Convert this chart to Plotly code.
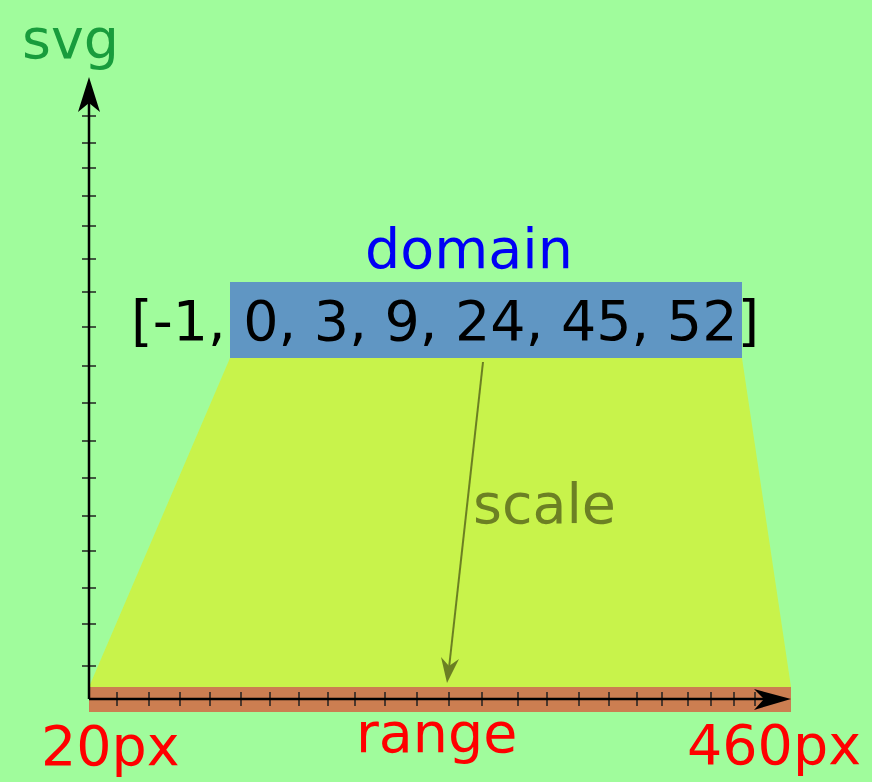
import plotly.graph_objects as go

# ---- data ----
domain = [-1, 0, 3, 9, 24, 45, 52]
range_px = [20, 460]
labels = {"svg": "svg", "domain": "domain", "scale": "scale", "range": "range"}
y_ticks = [116, 143, 168, 196, 226, 259, 292, 327, 366, 403, 441, 478, 516, 551, 588, 624, 666]
x_ticks = [117, 149, 180, 210, 241, 270, 299, 328, 355, 385, 417, 449, 482, 518, 547,
           579, 609, 637, 662, 688, 711, 734, 755]

W, H = 872, 782
BG = "#a0fc9c"
FONT = "DejaVu Sans"
FS = 55.5

fig = go.Figure()

shapes = []
# trapezoid (scale mapping)
shapes.append(dict(type="path", path="M 89 687 L 230 358 L 742 358 L 791 687 Z",
                   fillcolor="#c8f34b", line=dict(width=0), layer="below"))
# domain box
shapes.append(dict(type="rect", x0=230, x1=742, y0=282, y1=358,
                   fillcolor="#6096c3", line=dict(width=0), layer="below"))
# range band
shapes.append(dict(type="rect", x0=89, x1=791, y0=687, y1=712,
                   fillcolor="#cc7e51", line=dict(width=0), layer="below"))
# y axis line
shapes.append(dict(type="line", x0=89, x1=89, y0=699, y1=100,
                   line=dict(color="black", width=2.5)))
# y arrow head
shapes.append(dict(type="path", path="M 89 77 L 100 112 L 89 103 L 78 112 Z",
                   fillcolor="black", line=dict(width=0)))
# x axis line
shapes.append(dict(type="line", x0=89, x1=770, y0=699, y1=699,
                   line=dict(color="black", width=2.5)))
# x arrow head
shapes.append(dict(type="path", path="M 791 699 L 754 689 L 764 699 L 754 710 Z",
                   fillcolor="black", line=dict(width=0)))
# scale arrow
shapes.append(dict(type="line", x0=483, x1=449, y0=362, y1=668,
                   line=dict(color="#6b7f23", width=2)))
shapes.append(dict(type="path", path="M 447 683 L 441 657 L 449 666 L 459 659 Z",
                   fillcolor="#6b7f23", line=dict(width=0)))

# ticks
fig.add_trace(go.Scatter(x=[89] * len(y_ticks), y=y_ticks, mode="markers",
                         marker=dict(symbol="line-ew", size=10,
                                     line=dict(color="#222222", width=1.5)),
                         hoverinfo="skip", showlegend=False))
fig.add_trace(go.Scatter(x=x_ticks, y=[699] * len(x_ticks), mode="markers",
                         marker=dict(symbol="line-ns", size=10,
                                     line=dict(color="#222222", width=1.5)),
                         hoverinfo="skip", showlegend=False))

domain_text = "[" + ", ".join(str(v) for v in domain) + "]"


def ann(text, x, yc, color):
    return dict(text=text, x=x, y=yc, xref="x", yref="y", xanchor="left",
                yanchor="middle", showarrow=False,
                font=dict(family=FONT, size=FS, color=color))


annotations = [
    ann(labels["svg"], 20, 38, "#189c3c"),
    ann(labels["domain"], 363, 248, "#0000f5"),
    ann(domain_text, 129, 320, "black"),
    ann(labels["scale"], 471, 503, "#6c8024"),
    ann(labels["range"], 354, 732, "#ff0000"),
    ann(f"{range_px[0]}px", 39, 745, "#ff0000"),
    ann(f"{range_px[1]}px", 685, 744, "#ff0000"),
]

fig.update_layout(
    width=W, height=H,
    margin=dict(l=0, r=0, t=0, b=0),
    paper_bgcolor=BG, plot_bgcolor=BG,
    xaxis=dict(range=[0, W], visible=False, fixedrange=True),
    yaxis=dict(range=[H, 0], visible=False, fixedrange=True),
    shapes=shapes, annotations=annotations,
    showlegend=False,
)

fig.write_html(
    "out.html",
    config={"displayModeBar": False},
    post_script="document.body.style.margin='0';document.body.style.overflow='hidden';",
)
